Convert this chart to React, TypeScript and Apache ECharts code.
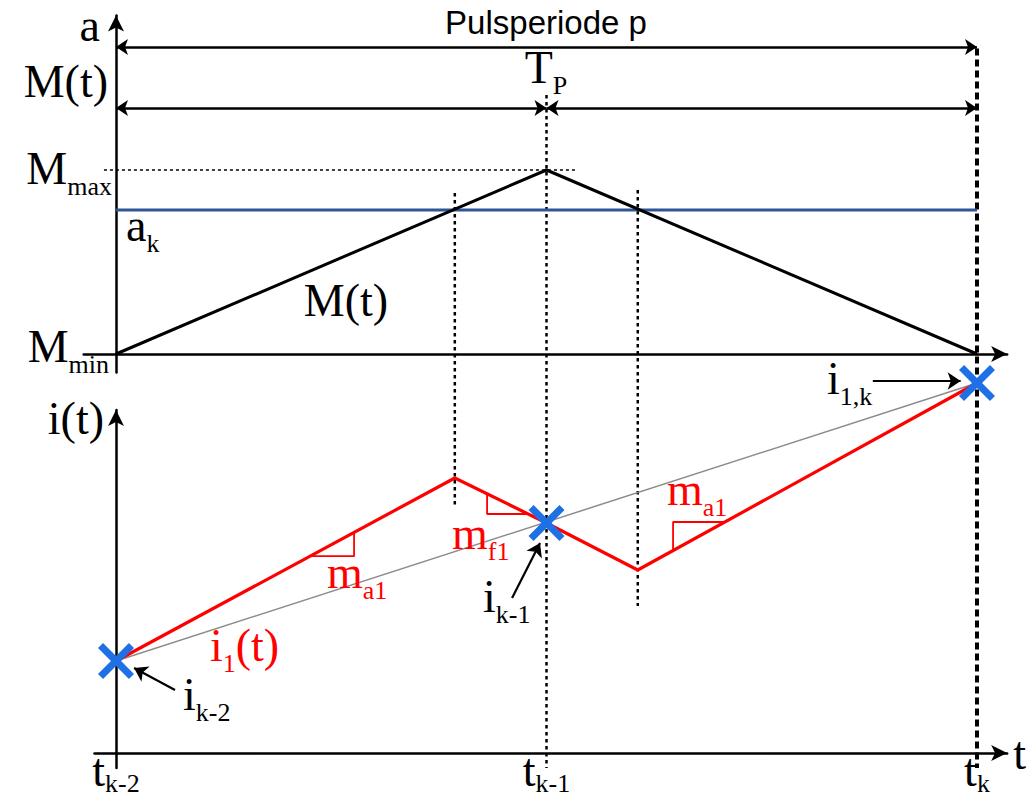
import { useEffect, useRef } from "react";
import * as echarts from "echarts";

// ---- data -------------------------------------------------------------

// time instants t_{k-2}, t_{k-1}, t_k on the t axis
const timeTicks = [0, 1, 2];
const timeTickSubs = ["k-2", "k-1", "k"];

// triangular carrier M(t) between M_min = 0 and M_max = 1
const carrierTime = [0, 1, 2];
const carrierValue = [0, 1, 0];
const modMax = 1;
const dutyAk = 0.783;

// inductor current i_1(t)
const currentTime = [0, 0.787, 1, 1.212, 2];
const currentValue = [0.92, 2.75, 2.3, 1.83, 3.7];

// sampled currents i_{k-2}, i_{k-1}, i_{1,k}
const sampleTime = [0, 1, 2];
const sampleValue = [0.92, 2.3, 3.7];

// switching instants where a_k meets M(t)
const switchTime = [0.787, 1.212];

// slope markers on the current ramps
const slopeRise1 = [[0.451, 1.968], [0.553, 1.968], [0.553, 2.206]];
const slopeFall = [[0.862, 2.592], [0.862, 2.39], [0.958, 2.39]];
const slopeRise2 = [[1.294, 2.022], [1.294, 2.31], [1.415, 2.31]];

// vertical guides, in carrier-panel units (they run down into the current panel)
const guideSpans = [
  { t: switchTime[0], from: 0.875, to: -0.832, kind: "dot" },
  { t: timeTicks[1], from: 1.408, to: -2.25, kind: "dot" },
  { t: switchTime[1], from: 0.891, to: -1.37, kind: "dot" },
  { t: timeTicks[2], from: 1.66, to: -2.25, kind: "dash" },
];

// dimension arrows above the carrier
const periodLevel = 1.668;
const halfLevel = 1.337;

// pointer arrows for the sample labels (current-panel units)
const pointerArrows = [
  [[0.137, 0.63], [0.042, 0.85]],
  [[0.92, 1.55], [0.985, 2.1]],
  [[1.758, 3.72], [1.962, 3.72]],
];

// ---- layout -----------------------------------------------------------

const X0 = 116; // px of t = 0
const SX = 430.5; // px per time unit
const TOP_Y0 = 354; // px of M = 0
const TOP_SY = 184; // px per carrier unit
const BOT_Y0 = 753; // px of i = 0
const BOT_SY = 100; // px per current unit

const topX = { min: -0.075, max: 2.07 };
const topY = { min: -0.1, max: 1.84 };
const botX = { min: -0.05, max: 2.07 };
const botY = { min: -0.15, max: 3.43 };

const serif = "'Liberation Serif', 'Times New Roman', serif";
const sans = "'Liberation Sans', Arial, sans-serif";
const RED = "#ff0000";
const BLUE = "#1f6fe5";

const tok = (size: number, lh: number, col: string, sub: boolean) => ({
  fontFamily: serif,
  fontSize: size,
  lineHeight: lh,
  color: col,
  fill: col,
  ...(sub ? { verticalAlign: "bottom" } : {}),
});

const rich = {
  n: tok(46, 62, "#000", false),
  s: tok(26, 26, "#000", true),
  r: tok(46, 62, RED, false),
  rs: tok(26, 26, RED, true),
};

const tickRich = {
  n: tok(46, 52, "#000", false),
  s: tok(26, 26, "#000", true),
};

const textLabels = [
  { text: "{n|a}", x: 100, y: 25, align: "right" },
  { text: "{n|M(t)}", x: 108, y: 81, align: "right" },
  { text: "{n|M}{s|max}", x: 112, y: 168, align: "right" },
  { text: "{n|M}{s|min}", x: 109, y: 346, align: "right" },
  { text: "{n|T}{s|P}", x: 546, y: 67, align: "center" },
  { text: "{n|a}{s|k}", x: 126, y: 225, align: "left" },
  { text: "{n|M(t)}", x: 346, y: 300, align: "center" },
  { text: "{n|i(t)}", x: 104, y: 418, align: "right" },
  { text: "{r|m}{rs|a1}", x: 327, y: 572, align: "left" },
  { text: "{r|m}{rs|f1}", x: 452, y: 533, align: "left" },
  { text: "{r|m}{rs|a1}", x: 667, y: 489, align: "left" },
  { text: "{r|i}{rs|1}{r|(t)}", x: 210, y: 645, align: "left" },
  { text: "{n|i}{s|k-1}", x: 483, y: 596, align: "left" },
  { text: "{n|i}{s|k-2}", x: 183, y: 694, align: "left" },
  { text: "{n|i}{s|1,k}", x: 827, y: 378, align: "left" },
];

const crossPath =
  "path://M0,2.8L2.8,0L10,7.2L17.2,0L20,2.8L12.8,10L20,17.2L17.2,20L10,12.8L2.8,20L0,17.2L7.2,10Z";

function arrowAxis(extra: any) {
  return {
    type: "value",
    axisLine: {
      show: true,
      onZero: true,
      symbol: ["none", "arrow"],
      symbolSize: [12, 16],
      lineStyle: { color: "#000", width: 2.5 },
    },
    axisTick: { show: false },
    axisLabel: { show: false },
    splitLine: { show: false },
    ...extra,
  };
}

function buildOption() {
  const zip = (a: number[], b: number[]) => a.map((v, i) => [v, b[i]]);

  const guideSeries = guideSpans.map((g) => ({
    type: "line",
    xAxisIndex: 0,
    yAxisIndex: 0,
    clip: false,
    symbol: "none",
    silent: true,
    data: [
      [g.t, g.from],
      [g.t, g.to],
    ],
    lineStyle:
      g.kind === "dash"
        ? { color: "#000", width: 4, type: [7, 4] }
        : { color: "#000", width: 2.5, type: [3.5, 3.5] },
    z: 3,
  }));

  const slopeSeries = [slopeRise1, slopeFall, slopeRise2].map((pts) => ({
    type: "line",
    xAxisIndex: 1,
    yAxisIndex: 1,
    symbol: "none",
    clip: false,
    data: pts,
    lineStyle: { color: RED, width: 1.8 },
    z: 4,
  }));

  return {
    animation: false,
    backgroundColor: "#fff",
    grid: [
      {
        left: X0 + topX.min * SX,
        width: (topX.max - topX.min) * SX,
        top: TOP_Y0 - topY.max * TOP_SY,
        height: (topY.max - topY.min) * TOP_SY,
        containLabel: false,
        outerBoundsMode: "none",
      },
      {
        left: X0 + botX.min * SX,
        width: (botX.max - botX.min) * SX,
        top: BOT_Y0 - botY.max * BOT_SY,
        height: (botY.max - botY.min) * BOT_SY,
        containLabel: false,
        outerBoundsMode: "none",
      },
    ],
    xAxis: [
      arrowAxis({ gridIndex: 0, min: topX.min, max: topX.max }),
      arrowAxis({
        gridIndex: 1,
        min: botX.min,
        max: botX.max,
        name: "t",
        nameLocation: "end",
        nameGap: 6,
        nameTextStyle: { fontFamily: serif, fontSize: 46, color: "#000" },
        axisLabel: {
          show: true,
          customValues: timeTicks,
          margin: -24,
          formatter: (v: number) => {
            const i = timeTicks.indexOf(v);
            return i < 0 ? "" : `{n|t}{s|${timeTickSubs[i]}}`;
          },
          rich: tickRich,
        },
      }),
    ],
    yAxis: [
      arrowAxis({ gridIndex: 0, min: topY.min, max: topY.max }),
      arrowAxis({ gridIndex: 1, min: botY.min, max: botY.max }),
    ],
    series: [
      // carrier
      {
        type: "line",
        xAxisIndex: 0,
        yAxisIndex: 0,
        symbol: "none",
        data: zip(carrierTime, carrierValue),
        lineStyle: { color: "#000", width: 3 },
        z: 5,
      },
      // duty level a_k
      {
        type: "line",
        xAxisIndex: 0,
        yAxisIndex: 0,
        symbol: "none",
        data: [
          [timeTicks[0], dutyAk],
          [timeTicks[2], dutyAk],
        ],
        lineStyle: { color: "#2f5597", width: 3 },
        z: 4,
      },
      // M_max reference
      {
        type: "line",
        xAxisIndex: 0,
        yAxisIndex: 0,
        symbol: "none",
        clip: false,
        data: [
          [-0.028, modMax],
          [1.066, modMax],
        ],
        lineStyle: { color: "#000", width: 1.5, type: [3, 3] },
        z: 3,
      },
      ...guideSeries,
      // period and half-period dimension arrows
      {
        type: "lines",
        coordinateSystem: "cartesian2d",
        xAxisIndex: 0,
        yAxisIndex: 0,
        clip: false,
        symbol: ["arrow", "arrow"],
        symbolSize: 12,
        lineStyle: { color: "#000", width: 2.5, opacity: 1 },
        data: [
          { coords: [[timeTicks[0], periodLevel], [timeTicks[2], periodLevel]] },
          { coords: [[timeTicks[0], halfLevel], [timeTicks[1], halfLevel]] },
          { coords: [[timeTicks[1], halfLevel], [timeTicks[2], halfLevel]] },
        ],
        z: 5,
      },
      // chord through the samples
      {
        type: "line",
        xAxisIndex: 1,
        yAxisIndex: 1,
        symbol: "none",
        clip: false,
        data: [
          [sampleTime[0], sampleValue[0]],
          [sampleTime[2], sampleValue[2]],
        ],
        lineStyle: { color: "#8c8c8c", width: 1.5 },
        z: 3,
      },
      // current i_1(t)
      {
        type: "line",
        xAxisIndex: 1,
        yAxisIndex: 1,
        symbol: "none",
        clip: false,
        data: zip(currentTime, currentValue),
        lineStyle: { color: RED, width: 3.2 },
        z: 5,
      },
      ...slopeSeries,
      // sample markers
      {
        type: "scatter",
        xAxisIndex: 1,
        yAxisIndex: 1,
        clip: false,
        symbol: crossPath,
        symbolSize: 36,
        itemStyle: { color: BLUE, opacity: 1 },
        data: zip(sampleTime, sampleValue),
        z: 8,
      },
      // pointer arrows
      {
        type: "lines",
        coordinateSystem: "cartesian2d",
        xAxisIndex: 1,
        yAxisIndex: 1,
        clip: false,
        symbol: ["none", "arrow"],
        symbolSize: 13,
        lineStyle: { color: "#000", width: 2.2, opacity: 1 },
        data: pointerArrows.map((c) => ({ coords: c })),
        z: 6,
      },
    ],
    graphic: [
      {
        type: "text",
        x: 546,
        y: 22,
        z: 10,
        style: {
          text: "Pulsperiode p",
          fontFamily: sans,
          fontSize: 33,
          fill: "#000",
          align: "center",
          verticalAlign: "middle",
        },
      },
      ...textLabels.map((l) => ({
        type: "text",
        x: l.x,
        y: l.y,
        z: 10,
        style: {
          text: l.text,
          rich,
          align: l.align,
          verticalAlign: "middle",
        },
      })),
    ],
  };
}

export default function App() {
  const ref = useRef<HTMLDivElement>(null);
  useEffect(() => {
    if (!ref.current) return;
    const chart = echarts.init(ref.current, null, { renderer: "svg" });
    chart.setOption(buildOption() as any);
    return () => chart.dispose();
  }, []);
  return (
    <div
      ref={ref}
      style={{ position: "fixed", left: 0, top: 0, width: 1031, height: 803, background: "#fff" }}
    />
  );
}
